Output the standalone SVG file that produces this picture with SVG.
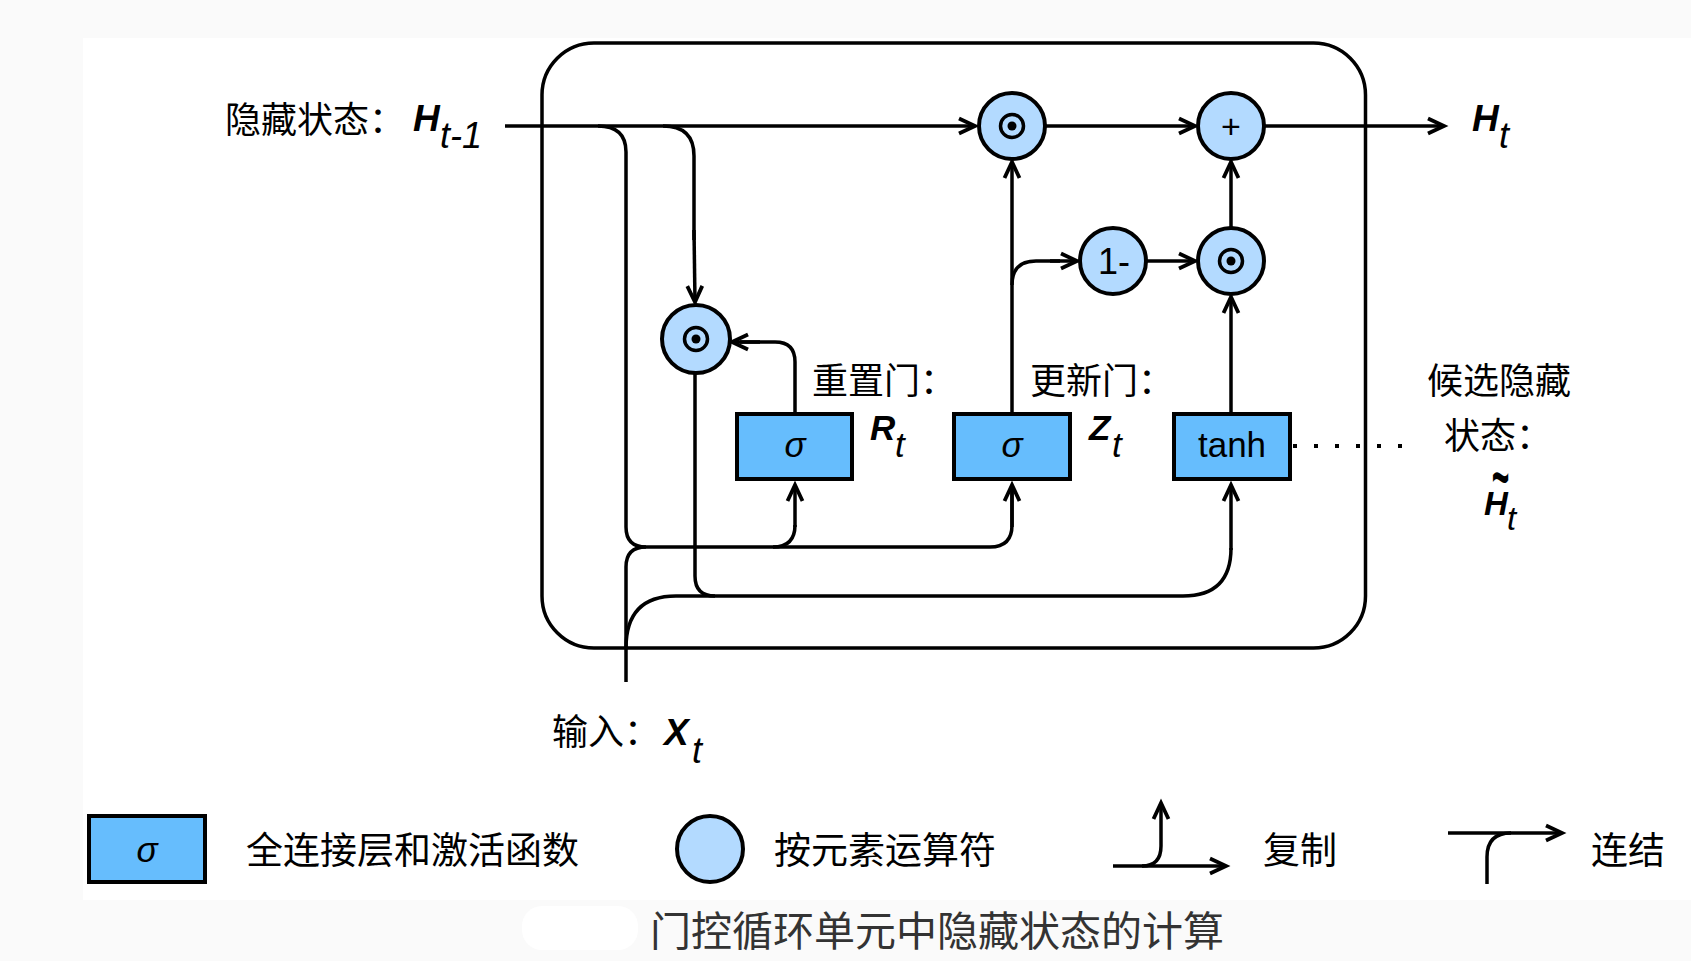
<svg xmlns="http://www.w3.org/2000/svg" width="1691" height="961" viewBox="0 0 1691 961">
<defs>
<style>
.ln{fill:none;stroke:#000;stroke-width:3.5;stroke-linecap:butt;stroke-linejoin:round}
.ar{marker-end:url(#arr)}
.box{fill:#66BDFD;stroke:#000;stroke-width:4}
.op{fill:#B3DAFF;stroke:#000;stroke-width:4}
.ring{fill:none;stroke:#000;stroke-width:3.5}
.cjk{font-family:"Noto Sans CJK SC","Noto Sans",sans-serif}
.lat{font-family:"Liberation Sans",Arial,sans-serif}
.bi{font-family:"Liberation Sans",Arial,sans-serif;font-weight:bold;font-style:italic}
.it{font-family:"Liberation Sans",Arial,sans-serif;font-style:italic}
</style>
<marker id="arr" markerUnits="userSpaceOnUse" markerWidth="24" markerHeight="24" viewBox="-20 -12 24 24" refX="0" refY="0" orient="auto" overflow="visible">
<path d="M-16,-7.5 L0,0 L-16,7.5" fill="none" stroke="#000" stroke-width="3.8" stroke-linejoin="miter"/>
</marker>
</defs>
<rect x="0" y="0" width="1691" height="961" fill="#fafafa"/>
<rect x="83" y="38" width="1608" height="862" fill="#ffffff"/>
<rect x="522" y="906" width="116" height="44" rx="20" fill="#ffffff"/>

<g id="cell">
<rect x="542" y="43" width="823.5" height="605" rx="52" ry="52" fill="none" stroke="#000" stroke-width="3.5"/>
</g>

<g id="connectors">
<path class="ln ar" d="M505,126 H975"/>
<path class="ln" d="M598,126 Q626,126 626,152 V527 Q626,547 646,547 H990 Q1012,547 1012,525 V485"/>
<path class="ln ar" d="M1012,527 V485"/>
<path class="ln" d="M773,547 Q795,547 795,525"/>
<path class="ln ar" d="M795,527 V485"/>
<path class="ln" d="M626,682 V567 Q626,547 646,547"/>
<path class="ln" d="M626,648 Q626,596 676,596 H1183 Q1231,596 1231,548"/>
<path class="ln ar" d="M1231,550 V485"/>
<path class="ln" d="M695,373 V576 Q695,596 715,596"/>
<path class="ln" d="M663,126 Q694,126 694,156 V240"/>
<path class="ln ar" d="M694,230 L695,302"/>
<path class="ln" d="M795,412 V362 Q795,342 775,342 H740"/>
<path class="ln ar" d="M760,342 H732"/>
<path class="ln ar" d="M1012,412 V162"/>
<path class="ln" d="M1012,285 Q1012,261 1036,261 H1060"/>
<path class="ln ar" d="M1050,261 H1077"/>
<path class="ln ar" d="M1146,261 H1195"/>
<path class="ln ar" d="M1231,228 V162"/>
<path class="ln ar" d="M1231,412 V297"/>
<path class="ln ar" d="M1045,126 H1195"/>
<path class="ln ar" d="M1264,126 H1444"/>
<path d="M1293,446 H1404" fill="none" stroke="#000" stroke-width="4" stroke-dasharray="4 17"/>
</g>

<g id="hprev">
<text class="cjk" x="225" y="133" font-size="36">隐藏状态：</text>
<text class="bi" x="413" y="131" font-size="37">H</text>
<text class="it" x="440" y="148" font-size="36">t-1</text>
</g>

<g id="ht">
<text class="bi" x="1472" y="131" font-size="37">H</text>
<text class="it" x="1499" y="148" font-size="36">t</text>
</g>

<g id="mul-top">
<circle class="op" cx="1012" cy="126" r="33"/>
<circle class="ring" cx="1012" cy="126" r="11.5"/>
<circle cx="1012" cy="126" r="4.5" fill="#000"/>
</g>

<g id="add">
<circle class="op" cx="1231" cy="126" r="33"/>
<text class="lat" x="1231" y="138" font-size="34" text-anchor="middle">+</text>
</g>

<g id="one-minus">
<circle class="op" cx="1113" cy="261" r="33"/>
<text class="lat" x="1114" y="274" font-size="36" text-anchor="middle">1-</text>
</g>

<g id="mul-mid">
<circle class="op" cx="1231" cy="261" r="33"/>
<circle class="ring" cx="1231" cy="261" r="11.5"/>
<circle cx="1231" cy="261" r="4.5" fill="#000"/>
</g>

<g id="mul-reset">
<circle class="op" cx="696" cy="339" r="34"/>
<circle class="ring" cx="696" cy="339" r="11.5"/>
<circle cx="696" cy="339" r="4.5" fill="#000"/>
</g>

<g id="reset-gate">
<rect class="box" x="737" y="414" width="115" height="65"/>
<text class="it" x="795" y="457" font-size="35" text-anchor="middle">σ</text>
<text class="cjk" x="812" y="394" font-size="36">重置门：</text>
<text class="bi" x="870" y="440" font-size="35">R</text>
<text class="it" x="895" y="457" font-size="35">t</text>
</g>

<g id="update-gate">
<rect class="box" x="954" y="414" width="116" height="65"/>
<text class="it" x="1012" y="457" font-size="35" text-anchor="middle">σ</text>
<text class="cjk" x="1030" y="394" font-size="36">更新门：</text>
<text class="bi" x="1089" y="440" font-size="35">Z</text>
<text class="it" x="1112" y="457" font-size="35">t</text>
</g>

<g id="candidate">
<rect class="box" x="1174" y="414" width="116" height="65"/>
<text class="lat" x="1232" y="457" font-size="35" text-anchor="middle">tanh</text>
<text class="cjk" x="1427" y="394" font-size="36">候选隐藏</text>
<text class="cjk" x="1444" y="449" font-size="36">状态：</text>
<text class="bi" font-size="30" text-anchor="middle" transform="translate(1500,500) scale(1,2.2)">~</text>
<text class="bi" x="1484" y="515" font-size="33">H</text>
<text class="it" x="1507" y="530" font-size="33">t</text>
</g>

<g id="input">
<text class="cjk" x="552" y="745" font-size="36">输入：</text>
<text class="bi" x="664" y="745" font-size="37">X</text>
<text class="it" x="692" y="763" font-size="36">t</text>
</g>

<g id="legend-fc">
<rect class="box" x="89" y="816" width="116" height="66"/>
<text class="it" x="147" y="862" font-size="35" text-anchor="middle">σ</text>
<text class="cjk" x="246" y="864" font-size="37">全连接层和激活函数</text>
</g>

<g id="legend-op">
<circle class="op" cx="710" cy="849" r="33"/>
<text class="cjk" x="774" y="864" font-size="37">按元素运算符</text>
</g>

<g id="legend-copy">
<path class="ln ar" d="M1113,866 H1226"/>
<path class="ln ar" d="M1142,866 Q1161,866 1161,846 V803"/>
<text class="cjk" x="1263" y="864" font-size="37">复制</text>
</g>

<g id="legend-concat">
<path class="ln ar" d="M1448,833 H1562"/>
<path class="ln" d="M1487,884 V857 Q1487,833 1511,833"/>
<text class="cjk" x="1591" y="864" font-size="37">连结</text>
</g>

<g id="caption">
<text class="cjk" x="650" y="946" font-size="41" fill="#333333">门控循环单元中隐藏状态的计算</text>
</g>
</svg>
